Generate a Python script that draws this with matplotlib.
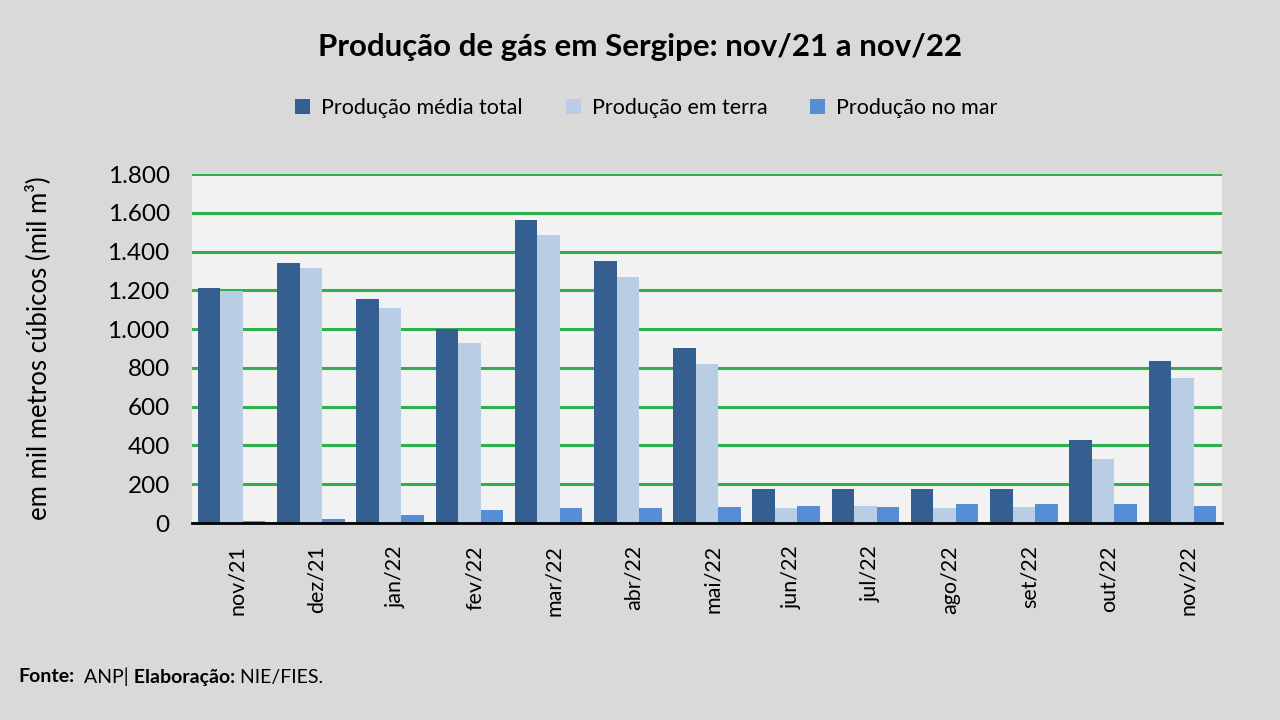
import matplotlib
matplotlib.use("Agg")
import matplotlib.pyplot as plt
import numpy as np
from matplotlib.ticker import FuncFormatter

categorias = ["nov/21", "dez/21", "jan/22", "fev/22", "mar/22", "abr/22", "mai/22",
              "jun/22", "jul/22", "ago/22", "set/22", "out/22", "nov/22"]
producao_total = [1210, 1341, 1153, 1000, 1561, 1350, 904, 173, 173, 173, 173, 428, 837]
producao_terra = [1198, 1315, 1107, 927, 1484, 1270, 822, 77, 89, 77, 83, 330, 750]
producao_mar = [10, 22, 43, 69, 76, 76, 83, 89, 83, 96, 96, 96, 89]
series_nomes = ["Produção média total", "Produção em terra", "Produção no mar"]
yticks = [0, 200, 400, 600, 800, 1000, 1200, 1400, 1600, 1800]

FONT = ["Lato", "DejaVu Sans"]
plt.rcParams['font.family'] = FONT

fig = plt.figure(figsize=(12.8, 7.2), dpi=100, facecolor="#d9d9d9")
ax = fig.add_axes([0.15, 0.2736, 0.8047, 0.4847])
ax.set_facecolor("#f2f2f2")

x = np.arange(len(categorias))
w = 0.284
cores = ["#365f91", "#b9cde5", "#558ed5"]
for i, (vals, nome, cor) in enumerate(zip([producao_total, producao_terra, producao_mar], series_nomes, cores)):
    ax.bar(x + (i - 1) * w, vals, width=w, color=cor, label=nome, zorder=3)

ax.set_xlim(-0.5, len(categorias) - 0.5)
ax.set_ylim(0, 1800)
ax.set_yticks(yticks)
ax.yaxis.set_major_formatter(FuncFormatter(lambda v, p: f"{int(v):,}".replace(",", ".")))
ax.grid(axis="y", color="#2eb04f", linewidth=2.2, zorder=1)
ax.set_axisbelow(True)
for s in ["top", "right", "left"]:
    ax.spines[s].set_visible(False)
ax.spines["bottom"].set_color("black")
ax.spines["bottom"].set_linewidth(2)
ax.spines["bottom"].set_zorder(4)
ax.tick_params(axis="both", length=0)
ax.tick_params(axis="y", labelsize=17.5, pad=16)
ax.set_xticks(x + 0.07)
ax.set_xticklabels(categorias, rotation=90, fontsize=15.5)
ax.tick_params(axis="x", pad=16)
ax.set_ylabel("em mil metros cúbicos (mil m³)", fontsize=18.5)
ax.yaxis.set_label_coords(-0.137, 0.5)

fig.text(0.5, 0.935, "Produção de gás em Sergipe: nov/21 a nov/22", ha="center", va="center",
         fontsize=22.5, fontweight="bold")

fig.legend(loc="center", bbox_to_anchor=(0.505, 0.85), ncol=3, frameon=False, fontsize=15.5,
           handlelength=0.7, handleheight=0.7, columnspacing=2.0, handletextpad=0.5)

# footer
partes = [("Fonte:", "bold"), ("  ANP|", "normal"), (" Elaboração:", "bold"), (" NIE/FIES.", "normal")]
fig.canvas.draw()
r = fig.canvas.get_renderer()
xpos = 18
for txt, peso in partes:
    t = fig.text(xpos / 1280, 1 - 677 / 720, txt, fontsize=14, fontweight=peso, va="center", ha="left")
    bb = t.get_window_extent(renderer=r)
    xpos = bb.x1

fig.savefig("out.png", dpi=100, facecolor=fig.get_facecolor())
